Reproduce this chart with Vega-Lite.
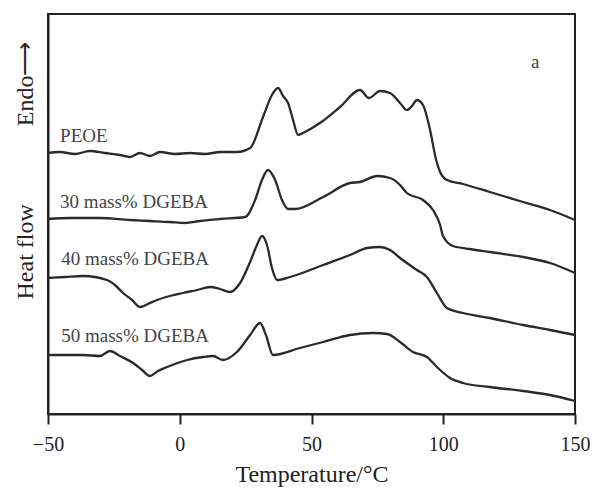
{
  "$schema": "https://vega.github.io/schema/vega-lite/v6.json",
  "width": 527,
  "height": 400,
  "autosize": {"type": "none"},
  "padding": {"left": 48, "top": 14, "right": 17, "bottom": 77},
  "background": "white",
  "config": {"view": {"stroke": "#222222", "strokeWidth": 2}, "font": "Liberation Serif"},
  "datasets": {
    "curves": [
      {"series": "PEOE", "t": -50, "v": 261}, {"series": "PEOE", "t": -45.5, "v": 262}, {"series": "PEOE", "t": -39.8, "v": 260}, {"series": "PEOE", "t": -34.1, "v": 263}, {"series": "PEOE", "t": -28.4, "v": 261}, {"series": "PEOE", "t": -22.7, "v": 259}, {"series": "PEOE", "t": -18.9, "v": 257}, {"series": "PEOE", "t": -15.1, "v": 261}, {"series": "PEOE", "t": -11.3, "v": 258}, {"series": "PEOE", "t": -7.5, "v": 262}, {"series": "PEOE", "t": -1.8, "v": 260}, {"series": "PEOE", "t": 3.9, "v": 261}, {"series": "PEOE", "t": 9.6, "v": 260}, {"series": "PEOE", "t": 15.3, "v": 262}, {"series": "PEOE", "t": 21.7, "v": 262}, {"series": "PEOE", "t": 26.7, "v": 266}, {"series": "PEOE", "t": 31.6, "v": 297}, {"series": "PEOE", "t": 35.0, "v": 319}, {"series": "PEOE", "t": 37.3, "v": 326}, {"series": "PEOE", "t": 39.2, "v": 318}, {"series": "PEOE", "t": 41.1, "v": 311}, {"series": "PEOE", "t": 43.0, "v": 294}, {"series": "PEOE", "t": 44.9, "v": 279}, {"series": "PEOE", "t": 47.5, "v": 282}, {"series": "PEOE", "t": 53.2, "v": 291}, {"series": "PEOE", "t": 60.8, "v": 307}, {"series": "PEOE", "t": 68.4, "v": 324}, {"series": "PEOE", "t": 71.8, "v": 316}, {"series": "PEOE", "t": 76.0, "v": 323}, {"series": "PEOE", "t": 79.8, "v": 321}, {"series": "PEOE", "t": 83.6, "v": 311}, {"series": "PEOE", "t": 86.2, "v": 304}, {"series": "PEOE", "t": 88.1, "v": 308}, {"series": "PEOE", "t": 90.0, "v": 314}, {"series": "PEOE", "t": 92.3, "v": 309}, {"series": "PEOE", "t": 95.0, "v": 284}, {"series": "PEOE", "t": 97.3, "v": 254}, {"series": "PEOE", "t": 98.8, "v": 242}, {"series": "PEOE", "t": 101.4, "v": 234}, {"series": "PEOE", "t": 107.5, "v": 230}, {"series": "PEOE", "t": 117.7, "v": 222}, {"series": "PEOE", "t": 130.3, "v": 212}, {"series": "PEOE", "t": 140.5, "v": 204}, {"series": "PEOE", "t": 150, "v": 194},
      {"series": "30", "t": -50, "v": 195}, {"series": "30", "t": -41.7, "v": 196}, {"series": "30", "t": -30.3, "v": 196}, {"series": "30", "t": -18.9, "v": 194}, {"series": "30", "t": -11.3, "v": 193}, {"series": "30", "t": -3.7, "v": 192}, {"series": "30", "t": 2.0, "v": 191}, {"series": "30", "t": 7.7, "v": 193}, {"series": "30", "t": 15.3, "v": 195}, {"series": "30", "t": 24.8, "v": 197}, {"series": "30", "t": 28.6, "v": 214}, {"series": "30", "t": 31.2, "v": 234}, {"series": "30", "t": 33.5, "v": 244}, {"series": "30", "t": 36.2, "v": 234}, {"series": "30", "t": 38.8, "v": 214}, {"series": "30", "t": 41.1, "v": 205}, {"series": "30", "t": 43.7, "v": 205}, {"series": "30", "t": 54.4, "v": 217}, {"series": "30", "t": 64.6, "v": 231}, {"series": "30", "t": 68.4, "v": 232}, {"series": "30", "t": 74.9, "v": 238}, {"series": "30", "t": 79.8, "v": 236}, {"series": "30", "t": 83.6, "v": 229}, {"series": "30", "t": 86.2, "v": 221}, {"series": "30", "t": 92.3, "v": 214}, {"series": "30", "t": 96.1, "v": 204}, {"series": "30", "t": 98.8, "v": 189}, {"series": "30", "t": 99.9, "v": 178}, {"series": "30", "t": 103.7, "v": 168}, {"series": "30", "t": 110.2, "v": 165}, {"series": "30", "t": 117.7, "v": 162}, {"series": "30", "t": 130.3, "v": 157}, {"series": "30", "t": 140.5, "v": 151}, {"series": "30", "t": 150, "v": 141},
      {"series": "40", "t": -50, "v": 136}, {"series": "40", "t": -43.6, "v": 137}, {"series": "40", "t": -36.7, "v": 138}, {"series": "40", "t": -27.6, "v": 134}, {"series": "40", "t": -24.6, "v": 129}, {"series": "40", "t": -21.5, "v": 121}, {"series": "40", "t": -18.1, "v": 114}, {"series": "40", "t": -15.1, "v": 107}, {"series": "40", "t": -12.1, "v": 110}, {"series": "40", "t": -8.6, "v": 114}, {"series": "40", "t": -3.7, "v": 118}, {"series": "40", "t": 1.2, "v": 121}, {"series": "40", "t": 6.6, "v": 124}, {"series": "40", "t": 11.5, "v": 127}, {"series": "40", "t": 15.3, "v": 125}, {"series": "40", "t": 19.1, "v": 122}, {"series": "40", "t": 22.9, "v": 131}, {"series": "40", "t": 26.7, "v": 152}, {"series": "40", "t": 29.3, "v": 169}, {"series": "40", "t": 31.2, "v": 178}, {"series": "40", "t": 33.1, "v": 169}, {"series": "40", "t": 35.0, "v": 146}, {"series": "40", "t": 36.9, "v": 134}, {"series": "40", "t": 41.8, "v": 137}, {"series": "40", "t": 54.4, "v": 149}, {"series": "40", "t": 64.6, "v": 159}, {"series": "40", "t": 71.1, "v": 166}, {"series": "40", "t": 76.0, "v": 167}, {"series": "40", "t": 79.8, "v": 164}, {"series": "40", "t": 83.6, "v": 156}, {"series": "40", "t": 90.0, "v": 144}, {"series": "40", "t": 93.8, "v": 137}, {"series": "40", "t": 97.6, "v": 121}, {"series": "40", "t": 101.4, "v": 106}, {"series": "40", "t": 107.5, "v": 101}, {"series": "40", "t": 117.7, "v": 96}, {"series": "40", "t": 130.3, "v": 89}, {"series": "40", "t": 140.5, "v": 84}, {"series": "40", "t": 150, "v": 79},
      {"series": "50", "t": -50, "v": 59}, {"series": "50", "t": -36.7, "v": 59}, {"series": "50", "t": -30.3, "v": 58}, {"series": "50", "t": -26.5, "v": 63}, {"series": "50", "t": -22.7, "v": 58}, {"series": "50", "t": -17.7, "v": 51}, {"series": "50", "t": -14.3, "v": 44}, {"series": "50", "t": -11.3, "v": 38}, {"series": "50", "t": -8.3, "v": 43}, {"series": "50", "t": -4.8, "v": 47}, {"series": "50", "t": 2.8, "v": 54}, {"series": "50", "t": 8.8, "v": 57}, {"series": "50", "t": 12.6, "v": 58}, {"series": "50", "t": 16.4, "v": 54}, {"series": "50", "t": 21.7, "v": 62}, {"series": "50", "t": 26.7, "v": 79}, {"series": "50", "t": 30.5, "v": 91}, {"series": "50", "t": 32.7, "v": 79}, {"series": "50", "t": 35.4, "v": 59}, {"series": "50", "t": 45.6, "v": 66}, {"series": "50", "t": 54.4, "v": 72}, {"series": "50", "t": 64.6, "v": 79}, {"series": "50", "t": 73.3, "v": 81}, {"series": "50", "t": 78.7, "v": 80}, {"series": "50", "t": 83.6, "v": 72}, {"series": "50", "t": 88.5, "v": 62}, {"series": "50", "t": 93.8, "v": 57}, {"series": "50", "t": 97.6, "v": 47}, {"series": "50", "t": 102.6, "v": 36}, {"series": "50", "t": 107.5, "v": 31}, {"series": "50", "t": 117.7, "v": 27}, {"series": "50", "t": 130.3, "v": 23}, {"series": "50", "t": 140.5, "v": 19}, {"series": "50", "t": 150, "v": 13}
    ],
    "labels": [
      {"label": "PEOE", "t": -45.4, "v": 272},
      {"label": "30 mass% DGEBA", "t": -45.4, "v": 206},
      {"label": "40 mass% DGEBA", "t": -45.0, "v": 149},
      {"label": "50 mass% DGEBA", "t": -45.0, "v": 72},
      {"label": "a", "t": 133.3, "v": 346}
    ]
  },
  "layer": [
    {
      "data": {"name": "curves"},
      "mark": {"type": "line", "color": "#2a2a2a", "strokeWidth": 2.3, "interpolate": "monotone"},
      "encoding": {
        "x": {
          "field": "t", "type": "quantitative",
          "scale": {"domain": [-50, 150], "nice": false, "zero": false},
          "axis": {
            "values": [-50, 0, 50, 100, 150],
            "title": "Temperature/°C",
            "titleFont": "Liberation Serif", "titleFontSize": 24, "titleFontWeight": "normal", "titleColor": "#222222", "titlePadding": 8,
            "labelFont": "Liberation Serif", "labelFontSize": 20, "labelColor": "#222222", "labelFlush": false, "labelPadding": 10,
            "tickSize": 10, "tickWidth": 2, "tickColor": "#222222",
            "domainColor": "#222222", "domainWidth": 2, "grid": false
          }
        },
        "y": {
          "field": "v", "type": "quantitative",
          "scale": {"domain": [0, 400], "nice": false, "zero": false},
          "axis": {
            "title": "Heat flow\u00a0\u00a0\u00a0\u00a0\u00a0\u00a0\u00a0\u00a0\u00a0\u00a0\u00a0\u00a0\u00a0Endo⟶",
            "titleFont": "Liberation Serif", "titleFontSize": 24, "titleFontWeight": "normal", "titleColor": "#222222",
            "titleX": -16, "titleY": 156, "titleAlign": "center", "titleBaseline": "alphabetic", "titleAngle": 270,
            "ticks": false, "labels": false, "grid": false,
            "domainColor": "#222222", "domainWidth": 2
          }
        },
        "detail": {"field": "series"}
      }
    },
    {
      "data": {"name": "labels"},
      "mark": {"type": "text", "align": "left", "baseline": "alphabetic", "font": "Liberation Serif", "fontSize": 19, "color": "#444444"},
      "encoding": {
        "x": {"field": "t", "type": "quantitative"},
        "y": {"field": "v", "type": "quantitative"},
        "text": {"field": "label"}
      }
    }
  ]
}
